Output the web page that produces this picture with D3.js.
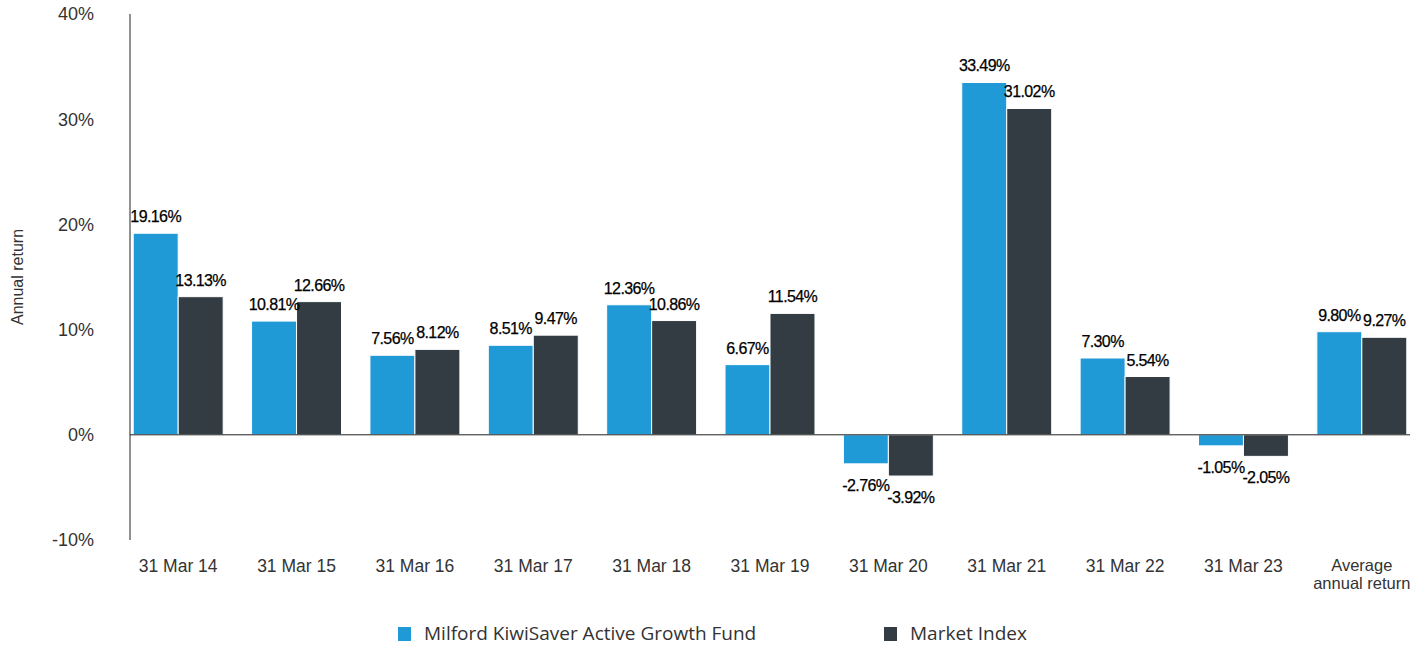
<!DOCTYPE html>
<html>
<head>
<meta charset="utf-8">
<script src="https://cdn.jsdelivr.net/npm/d3@7"></script>
<style>
  body { margin: 0; background: #fff; }
  svg { display: block; }
</style>
</head>
<body>
<svg id="chart" width="1424" height="646"></svg>
<script>
// data
var categories = ['31 Mar 14', '31 Mar 15', '31 Mar 16', '31 Mar 17', '31 Mar 18', '31 Mar 19',
                  '31 Mar 20', '31 Mar 21', '31 Mar 22', '31 Mar 23', 'Average annual return'];
var fundReturns = [19.16, 10.81, 7.56, 8.51, 12.36, 6.67, -2.76, 33.49, 7.30, -1.05, 9.80];
var indexReturns = [13.13, 12.66, 8.12, 9.47, 10.86, 11.54, -3.92, 31.02, 5.54, -2.05, 9.27];
var seriesNames = ['Milford KiwiSaver Active Growth Fund', 'Market Index'];
var yTicks = [-10, 0, 10, 20, 30, 40];

var colors = ['#1f9ad6', '#323c42'];
var font = 'Liberation Sans, Arial, sans-serif';

var svg = d3.select('#chart');

var y = d3.scaleLinear().domain([-10, 40]).range([540, 14]);

var x = d3.scaleBand()
    .domain(categories)
    .range([119, 1421])
    .paddingInner(0.24)
    .paddingOuter(0.12);

var xSub = d3.scaleBand()
    .domain([0, 1])
    .range([0, x.bandwidth()]);

// y tick labels
svg.append('g')
    .selectAll('text')
    .data(yTicks)
    .enter()
    .append('text')
    .attr('x', 94)
    .attr('y', function (d) { return y(d); })
    .attr('dy', '0.35em')
    .attr('text-anchor', 'end')
    .attr('font-family', font)
    .attr('font-size', 18)
    .attr('fill', '#333')
    .text(function (d) { return d + '%'; });

// axis title
svg.append('text')
    .attr('transform', 'translate(23,277) rotate(-90)')
    .attr('text-anchor', 'middle')
    .attr('font-family', font)
    .attr('font-size', 16)
    .attr('fill', '#333')
    .text('Annual return');

// bars
var groups = svg.append('g')
    .selectAll('g')
    .data(categories)
    .enter()
    .append('g')
    .attr('transform', function (d) { return 'translate(' + x(d) + ',0)'; });

var pairs = function (d, i) {
    return [fundReturns[i], indexReturns[i]].map(function (v, k) { return { v: v, k: k }; });
};

groups.selectAll('rect')
    .data(pairs)
    .enter()
    .append('rect')
    .attr('x', function (d) { return xSub(d.k); })
    .attr('width', xSub.bandwidth())
    .attr('y', function (d) { return y(Math.max(0, d.v)); })
    .attr('height', function (d) { return Math.abs(y(d.v) - y(0)); })
    .attr('fill', function (d) { return colors[d.k]; })
    .attr('stroke', '#fff')
    .attr('stroke-width', 1);

groups.selectAll('text.val')
    .data(pairs)
    .enter()
    .append('text')
    .attr('class', 'val')
    .attr('x', function (d) { return xSub(d.k) + xSub.bandwidth() / 2; })
    .attr('y', function (d) { return d.v >= 0 ? y(d.v) - 11 : y(d.v) + 27; })
    .attr('text-anchor', 'middle')
    .attr('font-family', font)
    .attr('font-size', 16)
    .attr('letter-spacing', '-0.6px')
    .attr('fill', '#000')
    .attr('stroke', '#000')
    .attr('stroke-width', 0.25)
    .text(function (d) { return d.v.toFixed(2) + '%'; });

// axis lines
svg.append('line')
    .attr('x1', 130).attr('x2', 130)
    .attr('y1', y(40)).attr('y2', y(-10))
    .attr('stroke', '#222').attr('stroke-width', 1);

svg.append('line')
    .attr('x1', 130).attr('x2', 1410)
    .attr('y1', y(0)).attr('y2', y(0))
    .attr('stroke', '#222').attr('stroke-width', 1);

// category labels
var xl = svg.append('g')
    .selectAll('text')
    .data(categories)
    .enter()
    .append('text')
    .attr('x', function (d) { return x(d) + x.bandwidth() / 2; })
    .attr('y', 572)
    .attr('text-anchor', 'middle')
    .attr('font-family', font)
    .attr('font-size', 17.5)
    .attr('fill', '#333');

xl.each(function (d) {
    var t = d3.select(this);
    if (d === 'Average annual return') {
        t.attr('font-size', 16.5);
        t.append('tspan').attr('x', t.attr('x')).attr('dy', -1).text('Average');
        t.append('tspan').attr('x', t.attr('x')).attr('dy', 17.5).text('annual return');
    } else {
        t.text(d);
    }
});

// legend
var legendX = [398, 884];
var legend = svg.append('g')
    .selectAll('g')
    .data(seriesNames)
    .enter()
    .append('g')
    .attr('transform', function (d, i) { return 'translate(' + legendX[i] + ',627)'; });

legend.append('rect')
    .attr('width', 13)
    .attr('height', 14)
    .attr('fill', function (d, i) { return colors[i]; });

legend.append('text')
    .attr('x', 26)
    .attr('y', 12.5)
    .attr('font-family', 'Open Sans, sans-serif')
    .attr('font-size', 19)
    .attr('fill', '#333')
    .text(function (d) { return d; });
</script>
</body>
</html>
